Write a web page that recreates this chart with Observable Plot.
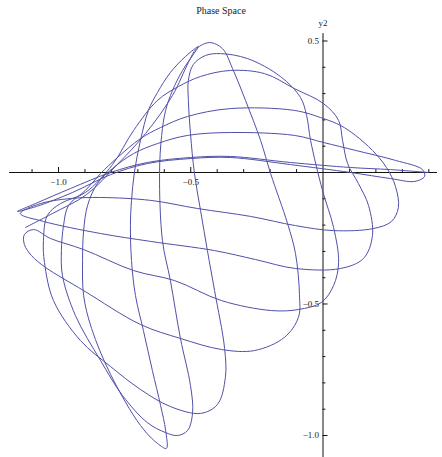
<!DOCTYPE html>
<html><head><meta charset="utf-8">
<script src="https://cdn.jsdelivr.net/npm/d3@7"></script>
<script src="https://cdn.jsdelivr.net/npm/@observablehq/plot@0.6"></script>
<style>
body{margin:0;background:#fff;}
#chart{position:relative;width:442px;height:457px;}
#title{position:absolute;left:0;top:5px;width:442px;text-align:center;font:10px "Liberation Serif",serif;color:#222;}
</style></head><body>
<div id="chart"><div id="title">Phase Space</div></div>
<script>
// trajectory samples in the (y1, y2) plane, in path order
const y1 = [
  0.399,0.255,0.104,-0.123,-0.350,-0.501,-0.664,-0.803,-0.955,-1.087,-1.155,
  -1.083,-0.947,-0.803,-0.664,-0.501,-0.350,-0.123,0.104,0.255,0.346,0.384,0.376,
  0.274,0.123,0.002,-0.108,-0.350,-0.512,-0.626,-0.716,-0.796,-0.853,-0.890,-0.905,-0.909,-0.905,-0.875,-0.803,-0.690,-0.626,-0.592,
  -0.595,-0.614,-0.645,-0.679,-0.709,-0.724,-0.728,-0.724,-0.713,-0.690,
  -0.660,-0.626,-0.577,-0.520,-0.471,-0.490,-0.531,-0.569,-0.595,-0.610,-0.618,
  -0.607,-0.577,-0.539,-0.501,-0.493,-0.512,-0.550,-0.595,-0.664,-0.758,-0.841,-0.936,-0.985,-0.989,-0.981,-0.962,
  -0.898,-0.841,-0.777,-0.690,-0.614,-0.512,-0.350,-0.108,0.002,0.066,0.123,0.187,0.240,0.274,0.285,
  0.259,0.191,0.040,-0.104,-0.274,-0.474,-0.652,-0.841,-0.955,-1.068,-1.144,
  -1.057,-0.841,-0.652,-0.410,-0.255,-0.104,0.066,0.153,0.187,
  0.172,0.134,0.093,0.074,0.059,0.002,-0.108,-0.221,-0.350,-0.463,-0.546,-0.626,-0.716,-0.796,-0.898,-0.992,-1.042,
  -1.057,-1.053,-1.019,
  -0.917,-0.803,-0.690,-0.577,-0.463,-0.399,-0.369,
  -0.372,-0.410,-0.437,-0.463,-0.486,-0.501,-0.509,-0.509,-0.490,-0.444,-0.388,-0.285,-0.161,-0.085,
  -0.062,-0.047,-0.002,0.040,0.059,
  0.040,-0.006,-0.093,-0.195,-0.384,-0.561,-0.716,-0.905,-1.030,-1.094,-1.129,-1.129,-1.102,-1.049,
  -0.905,-0.690,-0.539,-0.384,-0.259,-0.146,-0.093,-0.089,
  -0.104,-0.134,-0.198,-0.236,-0.293,-0.342,-0.380,-0.429,-0.478,-0.509,-0.569,-0.671,-0.781,-0.894,-1.023,-1.125
];
const y2 = [
  0,0.011,0.019,0.038,0.061,0.057,0.038,0,-0.061,-0.118,-0.148,
  -0.129,-0.076,-0.008,0.034,0.053,0.057,0.030,0,-0.023,-0.034,-0.015,0.011,
  0.046,0.084,0.114,0.141,0.152,0.141,0.110,0.072,0.015,-0.042,-0.125,-0.221,-0.335,-0.468,-0.593,-0.768,-0.962,-1.030,-1.049,
  -0.981,-0.886,-0.753,-0.601,-0.468,-0.335,-0.202,-0.106,0,0.122,
  0.236,0.304,0.380,0.441,0.479,0.449,0.388,0.312,0.236,0.141,-0.004,
  -0.259,-0.411,-0.631,-0.810,-0.913,-0.981,-1.000,-0.989,-0.951,-0.848,-0.715,-0.544,-0.392,-0.297,-0.202,-0.125,
  -0.068,-0.004,0.057,0.129,0.171,0.213,0.243,0.236,0.205,0.179,0.141,0.084,0.019,-0.053,-0.133,
  -0.186,-0.213,-0.221,-0.202,-0.167,-0.137,-0.106,-0.095,-0.099,-0.118,-0.156,
  -0.186,-0.232,-0.262,-0.297,-0.331,-0.365,-0.365,-0.327,-0.240,
  -0.125,-0.042,0.034,0.122,0.198,0.262,0.319,0.376,0.388,0.365,0.327,0.274,0.160,0.030,-0.076,-0.118,-0.163,
  -0.259,-0.342,-0.487,
  -0.639,-0.738,-0.825,-0.890,-0.916,-0.882,-0.779,
  -0.669,-0.449,-0.297,-0.144,-0.004,0.148,0.274,0.350,0.411,0.445,0.452,0.433,0.365,0.285,
  0.217,0.122,-0.068,-0.209,-0.342,
  -0.430,-0.494,-0.521,-0.525,-0.487,-0.411,-0.373,-0.293,-0.251,-0.217,-0.236,-0.274,-0.316,-0.361,
  -0.449,-0.578,-0.631,-0.673,-0.677,-0.627,-0.551,-0.464,
  -0.308,-0.194,-0.004,0.122,0.274,0.395,0.471,0.494,0.471,0.418,0.293,0.148,0.027,-0.084,-0.156,-0.209
];

const xMinor = [-1.1,-1.0,-0.9,-0.8,-0.7,-0.6,-0.5,-0.4,-0.3,-0.2,-0.1,0.1,0.2,0.3,0.4];
const xLabeled = [-1.0,-0.5];
const yMinor = [-1.0,-0.9,-0.8,-0.7,-0.6,-0.5,-0.4,-0.3,-0.2,-0.1,0.1,0.2,0.3,0.4,0.5];
const yLabeled = [-1.0,-0.5,0.5];

const pts = y1.map((v,i)=>({y1:v, y2:y2[i]}));
const fmt = v => (v<0?"\u2212":"") + Math.abs(v).toFixed(1);

const chart = Plot.plot({
  width: 442, height: 457,
  margin: 0,
  x: {domain: [-1.2193, 0.4518], axis: null},
  y: {domain: [-1.0837, 0.654], axis: null},
  style: {fontFamily: "'Liberation Serif', serif", fontSize: "9px", background: "#fff"},
  marks: [
    Plot.ruleY([0], {x1: -1.185, x2: 0.433, stroke: "#111", strokeWidth: 1}),
    Plot.ruleX([0], {y1: -1.084, y2: 0.528, stroke: "#111", strokeWidth: 1}),
    Plot.ruleX(xMinor, {x: d=>d, y1: 0, y2: d=>xLabeled.includes(d)?0.019:0.011, stroke: "#111"}),
    Plot.ruleY(yMinor, {y: d=>d, x1: 0, x2: d=>yLabeled.includes(d)?0.019:0.011, stroke: "#111"}),
    Plot.text(xLabeled, {x: d=>d, y: 0, dy: 10, text: fmt, fill: "#222"}),
    Plot.text(yLabeled, {x: 0, y: d=>d, dx: -4, textAnchor: "end", text: fmt, fill: "#222"}),
    Plot.text(["y2"], {x: 0, y: 0.567, text: d=>d, fill: "#222"}),
    Plot.line(pts, {x: "y1", y: "y2", curve: "catmull-rom", stroke: "#5050a8", strokeWidth: 1})
  ]
});
document.getElementById("chart").appendChild(chart);
</script>
</body></html>
